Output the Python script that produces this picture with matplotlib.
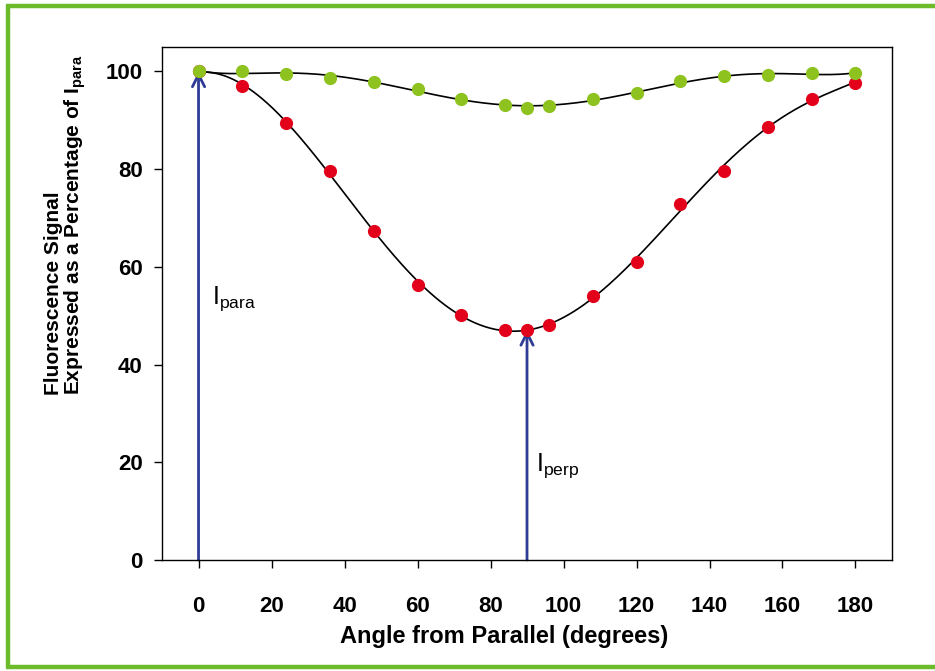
import numpy as np
import matplotlib
matplotlib.use("Agg")
import matplotlib.pyplot as plt
from matplotlib.lines import Line2D

plt.rcParams['font.family'] = ['Liberation Sans', 'DejaVu Sans']
plt.rcParams['mathtext.default'] = 'regular'

# angle in degrees
angle = [0, 12, 24, 36, 48, 60, 72, 84, 90, 96, 108, 120, 132, 144, 156, 168, 180]
# green series (% of I_para)
green_vals = [100.0, 100.0, 99.5, 98.7, 97.9, 96.4, 94.4, 93.1, 92.5, 92.9,
              94.3, 95.6, 98.0, 99.0, 99.2, 99.6, 99.7]
# red series (% of I_para)
red_vals = [100.0, 97.0, 89.5, 79.7, 67.4, 56.2, 50.1, 47.1, 47.1, 48.2,
            54.0, 60.9, 72.9, 79.7, 88.6, 94.4, 97.7]
xticks = [0, 20, 40, 60, 80, 100, 120, 140, 160, 180]
yticks = [0, 20, 40, 60, 80, 100]

GREEN = '#8dc21f'
RED = '#e2001a'
BLUE = '#2e3c96'
FRAME = '#6cbb2b'

fig = plt.figure(figsize=(9.35, 6.71), dpi=100)
ax = fig.add_axes([0.1733, 0.1654, 0.7807, 0.7646])

x = np.array(angle, dtype=float)
xs = np.linspace(0, 180, 400)
for vals in (green_vals, red_vals):
    coef = np.polyfit(x / 180.0, np.array(vals), 6)
    ax.plot(xs, np.polyval(coef, xs / 180.0), color='black', lw=1.2, zorder=3)

# arrows for I_para and I_perp
ax.annotate('', xy=(0, 100), xytext=(0, 0),
            arrowprops=dict(arrowstyle='->', color=BLUE, lw=2.0,
                            mutation_scale=22, shrinkA=0, shrinkB=0), zorder=2)
ax.annotate('', xy=(90, red_vals[8]), xytext=(90, 0),
            arrowprops=dict(arrowstyle='->', color=BLUE, lw=2.0,
                            mutation_scale=22, shrinkA=0, shrinkB=0), zorder=2)

ax.plot(x, red_vals, 'o', color=RED, ms=9.5, mew=0, zorder=4)
ax.plot(x, green_vals, 'o', color=GREEN, ms=9.5, mew=0, zorder=5)

ax.text(3.8, 52.5, r'$I_{para}$', fontsize=18, va='baseline', ha='left')
ax.text(92.5, 18.2, r'$I_{perp}$', fontsize=18, va='baseline', ha='left')

ax.set_xlim(-10, 190)
ax.set_ylim(0, 105)
ax.set_xticks(xticks)
ax.set_yticks(yticks)
ax.tick_params(direction='out', length=6, width=1, labelsize=16)
ax.tick_params(axis='x', pad=20)
ax.tick_params(axis='y', pad=8)
for lab in ax.get_xticklabels() + ax.get_yticklabels():
    lab.set_fontweight('bold')
for sp in ax.spines.values():
    sp.set_linewidth(1)

fig.text(504 / 935, 1 - 636 / 671, 'Angle from Parallel (degrees)',
         fontsize=17, fontweight='bold', ha='center', va='center')
fig.text(66 / 935, 1 - 225 / 671,
         'Fluorescence Signal\nExpressed as a Percentage of $I_{para}$',
         fontsize=15, fontweight='bold', rotation=90, ha='center', va='center',
         multialignment='left', linespacing=1.0)

# green frame (left, top, bottom)
W, H = 935.0, 671.0
fr = dict(color=FRAME, lw=3.2, transform=fig.transFigure, solid_capstyle='butt')
fig.add_artist(Line2D([8 / W, 8 / W], [1 - 5 / H, 1 - 668 / H], **fr))
fig.add_artist(Line2D([6 / W, 1.0], [1 - 6 / H, 1 - 6 / H], **fr))
fig.add_artist(Line2D([6 / W, 1.0], [1 - 667 / H, 1 - 667 / H], **fr))

fig.savefig('out.png', dpi=100, facecolor='white')
